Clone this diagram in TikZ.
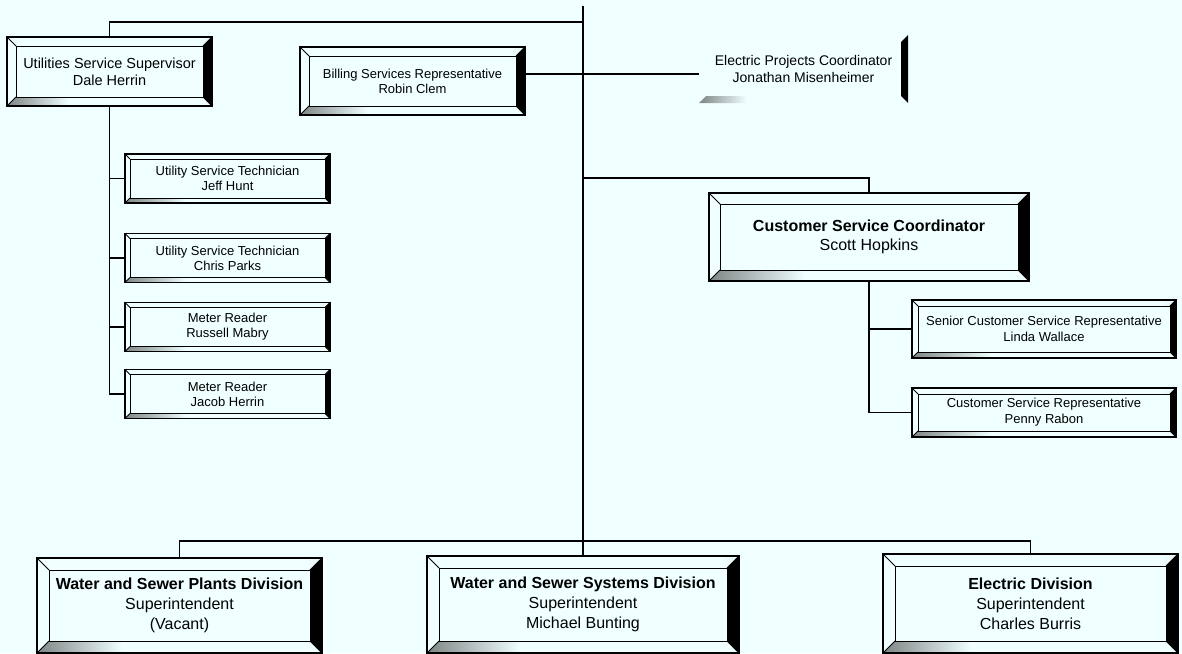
\documentclass[tikz,border=0pt]{standalone}
\usepackage{fontspec}
\setmainfont{Liberation Sans}
\definecolor{bg}{RGB}{240,255,255}
\pgfdeclarehorizontalshading{botfade}{100bp}{color(0bp)=(black); color(15bp)=(black!80); color(40bp)=(bg); color(100bp)=(bg)}
\pgfdeclarehorizontalshading{topfade}{100bp}{color(0bp)=(bg); color(72bp)=(bg); color(100bp)=(black!45)}
\tikzset{
  bevel/.store in=\bevw,
  bevel=6pt,
  link/.style={line width=1.4pt},
  postbox/.style={rectangle, draw=black, line width=1.2pt, fill=bg, align=center, inner sep=0pt,
    path picture={
      \coordinate (pSW) at (path picture bounding box.south west);
      \coordinate (pSE) at (path picture bounding box.south east);
      \coordinate (pNE) at (path picture bounding box.north east);
      \coordinate (pNW) at (path picture bounding box.north west);
      \coordinate (qSW) at ([shift={(\bevw,\bevw)}]pSW);
      \coordinate (qSE) at ([shift={(-\bevw,\bevw)}]pSE);
      \coordinate (qNE) at ([shift={(-\bevw,-\bevw)}]pNE);
      \coordinate (qNW) at ([shift={(\bevw,-\bevw)}]pNW);
      \shade[shading=topfade] (pNW) -- (pNE) -- (qNE) -- (qNW) -- cycle;
      \fill[black] (pNE) -- (pSE) -- (qSE) -- (qNE) -- cycle;
      \shade[shading=botfade] (pSW) -- (pSE) -- (qSE) -- (qSW) -- cycle;
      \draw[line width=0.8pt] (qSW) rectangle (qNE);
      \draw[line width=0.8pt] (pSW) -- (qSW) (pSE) -- (qSE) (pNE) -- (qNE) (pNW) -- (qNW);
    }},
  ghostbox/.style={rectangle, align=center, inner sep=0pt,
    path picture={
      \coordinate (pSW) at (path picture bounding box.south west);
      \coordinate (pSE) at (path picture bounding box.south east);
      \coordinate (pNE) at (path picture bounding box.north east);
      \coordinate (qSW) at ([shift={(\bevw,\bevw)}]pSW);
      \coordinate (qSE) at ([shift={(-\bevw,\bevw)}]pSE);
      \coordinate (qNE) at ([shift={(-\bevw,-\bevw)}]pNE);
      \fill[black] (pNE) -- (pSE) -- (qSE) -- (qNE) -- cycle;
      \shade[shading=botfade] (pSW) -- ([xshift=-50pt]pSE) -- ([shift={(-50pt,\bevw)}]pSE) -- (qSW) -- cycle;
    }}
}
\begin{document}
\begin{tikzpicture}[x=1pt,y=-1pt]
            \useasboundingbox (0,0) rectangle (1182,653);
            \fill[bg] (0,0) rectangle (1182,653);

            \node[postbox, bevel=9pt, minimum width=205pt, minimum height=69pt, font=\fontsize{14.5}{17}\selectfont] (uss) at (109.5,71.5) {Utilities Service Supervisor\\Dale Herrin};
            \node[postbox, bevel=9pt, minimum width=225pt, minimum height=68pt, font=\fontsize{13}{15}\selectfont] (bsr) at (412.5,81) {Billing Services Representative\\Robin Clem};
            \node[ghostbox, bevel=7pt, minimum width=209pt, minimum height=68pt, font=\fontsize{14}{17}\selectfont] (epc) at (803.5,69) {Electric Projects Coordinator\\Jonathan Misenheimer};
            \node[postbox, bevel=11pt, minimum width=320pt, minimum height=88pt, font=\fontsize{16}{19}\selectfont] (csc) at (869,237) {\textbf{Customer Service Coordinator}\\Scott Hopkins};

            \node[postbox, bevel=5pt, minimum width=205pt, minimum height=49pt, font=\fontsize{13}{15}\selectfont] (ust1) at (227.5,178.5) {Utility Service Technician\\Jeff Hunt};
            \node[postbox, bevel=5pt, minimum width=205pt, minimum height=49pt, font=\fontsize{13}{15}\selectfont] (ust2) at (227.5,258) {Utility Service Technician\\Chris Parks};
            \node[postbox, bevel=5pt, minimum width=205pt, minimum height=49pt, font=\fontsize{13}{15}\selectfont] (mr1) at (227.5,327) {Meter Reader\\Russell Mabry};
            \node[postbox, bevel=5pt, minimum width=205pt, minimum height=49pt, font=\fontsize{13}{15}\selectfont] (mr2) at (227.5,394) {Meter Reader\\Jacob Herrin};

            \node[postbox, bevel=6pt, minimum width=264pt, minimum height=58pt, font=\fontsize{13}{16}\selectfont] (cssr) at (1044,329) {Senior Customer Service Representative\\Linda Wallace};
            \node[postbox, bevel=6pt, minimum width=264pt, minimum height=49pt, font=\fontsize{13}{16}\selectfont] (csr) at (1044,412.5) {Customer Service Representative\\Penny Rabon};

            \node[postbox, bevel=12pt, minimum width=285pt, minimum height=95pt, font=\fontsize{16}{20}\selectfont] (wsp) at (179.5,605.5) {\textbf{Water and Sewer Plants Division}\\Superintendent\\(Vacant)};
            \node[postbox, bevel=12pt, minimum width=312pt, minimum height=97pt, font=\fontsize{16}{20}\selectfont] (wss) at (583,604.5) {\textbf{Water and Sewer Systems Division}\\Superintendent\\Michael Bunting};
            \node[postbox, bevel=12pt, minimum width=295pt, minimum height=99pt, font=\fontsize{16}{20}\selectfont] (ed) at (1030.5,603.5) {\textbf{Electric Division}\\Superintendent\\Charles Burris};

            \coordinate (root) at (583,6);
            \coordinate (hub) at (583,541);
            \coordinate (tbar) at (583,22);
            \coordinate (bbar) at (583,74);
            \coordinate (cbar) at (583,178);

            \draw[link] (root) -- (hub);
            \draw[link] (tbar) -| (uss.north);
            \draw[link] (uss.south) |- (mr2.west);
            \draw[link] (uss.south |- ust1.west) -- (ust1.west);
            \draw[link] (uss.south |- ust2.west) -- (ust2.west);
            \draw[link] (uss.south |- mr1.west) -- (mr1.west);
            \draw[link] (bsr.east |- bbar) -- (epc.west |- bbar);
            \draw[link] (cbar) -| (csc.north);
            \draw[link] (csc.south) |- (csr.west);
            \draw[link] (csc.south |- cssr.west) -- (cssr.west);
            \draw[link] (hub) -| (wsp.north);
            \draw[link] (hub) -| (ed.north);
            \draw[link] (hub) -- (wss.north);
\end{tikzpicture}
\end{document}
